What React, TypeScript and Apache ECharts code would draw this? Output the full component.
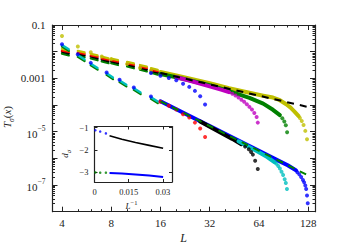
import React, { useEffect, useRef } from "react";
import * as echarts from "echarts";

const FONT = '"Liberation Serif", "DejaVu Serif", serif';
const INK = "#222";

// ---------- main axes ----------
const X_TICKS = [4, 8, 16, 32, 64, 128];
const X_MINOR = [5, 6, 7, 10, 12, 14, 20, 24, 28, 40, 48, 56, 80, 96, 112];
const Y_DECADES = [1e-8, 1e-7, 1e-6, 1e-5, 1e-4, 1e-3, 1e-2, 1e-1];
const Y_LABELS = [1e-7, 1e-5, 1e-3, 1e-1];
const Y_MINOR_FACTORS = [2, 3, 4, 5, 6, 7, 8, 9];

// ---------- upper family (values are log10 T) ----------
const UP_CLUSTER_L = [4, 5, 6, 7, 8, 10, 12, 14];
const UP_CLUSTER_END = [4.4, 5.5, 6.6, 7.7, 8.8, 11, 13.2, 15.4];
const UP_YELLOW_START = [-1.9, -1.97, -2.08, -2.19, -2.26, -2.38, -2.5, -2.62];
const UP_YELLOW_END = [-1.96, -2.03, -2.14, -2.25, -2.32, -2.44, -2.56, -2.68];
const UP_RED_START = [-1.96, -2.03, -2.14, -2.25, -2.32, -2.44, -2.56, -2.68];
const UP_RED_END = [-2.01, -2.08, -2.19, -2.3, -2.37, -2.49, -2.61, -2.73];
const UP_BLACK_START = [-2.0, -2.07, -2.18, -2.29, -2.36, -2.48, -2.6, -2.72];
const UP_BLACK_END = [-2.07, -2.14, -2.25, -2.36, -2.43, -2.55, -2.67, -2.79];
const UP_GREEN_START = [-2.07, -2.14, -2.25, -2.36, -2.43, -2.55, -2.67, -2.79];
const UP_GREEN_END = [-2.14, -2.21, -2.32, -2.43, -2.5, -2.62, -2.74, -2.86];

const YELLOW_DOT_L = [4, 5, 6, 7, 8, 10, 12, 14];
const YELLOW_DOT_V = [-1.41, -1.81, -2.02, -2.18, -2.28, -2.46, -2.61, -2.71];
const YELLOW_BAND_L = [16, 20, 24, 32, 42, 56, 68, 78, 86, 94, 100, 106, 112];
const YELLOW_BAND_V = [-2.76, -2.89, -3.0, -3.18, -3.37, -3.54, -3.65, -3.72, -3.82, -3.97, -4.1, -4.26, -4.42];
const YELLOW_TAIL_L = [114, 117, 120, 123, 126];
const YELLOW_TAIL_V = [-4.49, -4.6, -4.75, -4.97, -5.28];

const GREEN_BAND_L = [16, 20, 24, 32, 42, 56, 68, 78, 86];
const GREEN_BAND_V = [-2.84, -2.96, -3.07, -3.26, -3.48, -3.73, -3.95, -4.18, -4.38];
const GREEN_TAIL_L = [89, 91.5, 93.5, 95.2];
const GREEN_TAIL_V = [-4.5, -4.62, -4.76, -5.02];

const MAGENTA_BAND_L = [20, 24, 32, 38, 42];
const MAGENTA_BAND_V = [-2.96, -3.08, -3.3, -3.43, -3.52];
const MAGENTA_TAIL_L = [44, 46, 48, 50, 52, 54, 56, 58, 60, 62, 63];
const MAGENTA_TAIL_V = [-3.58, -3.64, -3.72, -3.8, -3.88, -3.97, -4.07, -4.17, -4.3, -4.45, -4.66];

const BLUE_UP_L = [14, 16, 18, 20, 22, 24, 26, 28, 30];
const BLUE_UP_V = [-2.8, -2.9, -2.99, -3.07, -3.2, -3.32, -3.47, -3.67, -3.98];

const FIT_UP_L = [16, 127];
const FIT_UP_V = [-2.8, -4.07];

// ---------- lower family (values are log10 T) ----------
const LOW_CLUSTER_L = [4, 5, 6, 7.5, 9, 11, 14];
const LOW_CLUSTER_END = [4.4, 5.5, 6.6, 8.2, 9.9, 12.1, 15.4];
const LOW_BLUE_DOT_V = [-1.72, -2.1, -2.42, -2.78, -3.05, -3.34, -3.68];
const LOW_CYAN_START = [-1.75, -2.13, -2.45, -2.81, -3.08, -3.37, -3.71];
const LOW_CYAN_END = [-1.91, -2.29, -2.61, -2.97, -3.24, -3.53, -3.87];
const LOW_GREEN_START = [-1.81, -2.19, -2.51, -2.87, -3.14, -3.43, -3.77];
const LOW_GREEN_END = [-1.97, -2.35, -2.67, -3.03, -3.3, -3.59, -3.93];

const BLUE_LOW_BAND_L = [16, 24, 32, 48, 64, 80, 96, 108];
const BLUE_LOW_BAND_V = [-3.86, -4.4, -4.79, -5.33, -5.72, -6.02, -6.26, -6.45];
const BLUE_LOW_TAIL_L = [110, 113, 116, 119, 121, 123, 124.5, 126, 127.3];
const BLUE_LOW_TAIL_V = [-6.52, -6.6, -6.7, -6.81, -6.9, -7.02, -7.15, -7.39, -7.68];

const CYAN_BAND_L = [48, 64, 72, 80];
const CYAN_BAND_V = [-5.36, -5.77, -5.95, -6.15];
const CYAN_TAIL_L = [82, 84, 86, 88, 90, 92, 93.5, 95];
const CYAN_TAIL_V = [-6.2, -6.29, -6.38, -6.5, -6.62, -6.78, -6.92, -7.15];

const BLACK_LOW_BAND_L = [28, 36, 44, 50];
const BLACK_LOW_BAND_V = [-4.62, -4.98, -5.27, -5.47];
const BLACK_LOW_TAIL_L = [52.7, 55.5, 57.3, 58.8, 60.7, 63];
const BLACK_LOW_TAIL_V = [-5.56, -5.66, -5.76, -5.86, -6.09, -6.4];

const RED_LOW_L = [16, 18, 20, 22, 24, 26, 28, 30];
const RED_LOW_V = [-3.88, -4.03, -4.17, -4.35, -4.47, -4.66, -4.88, -5.2];

const FIT_LOW_L = [16, 126];
const FIT_LOW_V = [-3.86, -6.62];

// ---------- inset ----------
const INSET_X_TICKS = [0, 0.015, 0.03];
const INSET_Y_TICKS = [-3, -2, -1];
const INV_L_LINE = [0.0066, 0.012, 0.018, 0.024, 0.0301];
const D_BLACK = [-1.37, -1.52, -1.67, -1.8, -1.93];
const D_BLUE = [-3.05, -3.07, -3.11, -3.16, -3.23];
const INV_L_DOTS = [0.0004, 0.0025, 0.005];
const D_BLUE_DOTS = [-1.12, -1.18, -1.26];
const D_GREEN_DOTS = [-3.02, -3.03, -3.03];

const C = {
  b: "#0000ff",
  g: "#008000",
  r: "#ff0000",
  c: "#00bfbf",
  m: "#bf00bf",
  y: "#bfbf00",
  k: "#000000",
};

const pts = (L: number[], v: number[]) => L.map((l, i) => [l, Math.pow(10, v[i])]);
const lin = (x: number[], y: number[]) => x.map((a, i) => [a, y[i]]);
const segs = (Ls: number[], Le: number[], vs: number[], ve: number[]) =>
  Ls.map((l, i) => ({ coords: [[l, Math.pow(10, vs[i])], [Le[i], Math.pow(10, ve[i])]] }));

const band = (L: number[], v: number[], color: string) => ({
  type: "line",
  data: pts(L, v),
  symbol: "none",
  silent: true,
  lineStyle: { color, width: 4, cap: "round", join: "round" },
  z: 2,
});
const dots = (L: number[], v: number[], color: string, size = 4) => ({
  type: "scatter",
  data: pts(L, v),
  symbolSize: size,
  silent: true,
  itemStyle: { color },
  z: 3,
});
const streak = (Ls: number[], Le: number[], vs: number[], ve: number[], color: string) => ({
  type: "lines",
  coordinateSystem: "cartesian2d",
  data: segs(Ls, Le, vs, ve),
  silent: true,
  lineStyle: { color, width: 2.3, opacity: 1, curveness: 0, cap: "round" },
  z: 3,
});
const fit = (L: number[], v: number[], color: string) => ({
  type: "line",
  data: pts(L, v),
  symbol: "none",
  silent: true,
  lineStyle: { color, width: 2, type: [7, 6] },
  z: 5,
});

const yMinor = Y_DECADES.slice(0, -1).flatMap((d) => Y_MINOR_FACTORS.map((f) => f * d));

const tickLine = { color: INK, width: 1 };

function mainX(position: string, ticks: number[], len: number, labels: boolean, line: boolean) {
  return {
    type: "log",
    logBase: 2,
    min: 3.5,
    max: 141,
    gridIndex: 0,
    position,
    axisLine: { show: line, onZero: false, lineStyle: { color: INK, width: 1.2 } },
    splitLine: { show: false },
    axisTick: { show: true, inside: true, length: len, customValues: ticks, lineStyle: tickLine },
    axisLabel: labels
      ? {
          show: true,
          customValues: X_TICKS,
          margin: 6,
          fontFamily: FONT,
          fontSize: 11,
          color: INK,
          formatter: (v: number) => String(Math.round(v)),
        }
      : { show: false },
  };
}

function mainY(position: string, ticks: number[], len: number, labels: boolean, line: boolean) {
  return {
    type: "log",
    logBase: 10,
    min: 1e-8,
    max: 0.1,
    gridIndex: 0,
    position,
    axisLine: { show: line, onZero: false, lineStyle: { color: INK, width: 1.2 } },
    splitLine: { show: false },
    axisTick: { show: true, inside: true, length: len, customValues: ticks, lineStyle: tickLine },
    axisLabel: labels
      ? {
          show: true,
          customValues: Y_LABELS,
          margin: 7,
          fontFamily: FONT,
          fontSize: 11,
          color: INK,
          formatter: (v: number) => {
            const e = Math.round(Math.log10(v));
            if (e === -1) return "0.1";
            if (e === -3) return "0.001";
            return `{b|10}{s|−${-e}}`;
          },
          rich: {
            b: { fontFamily: FONT, fontSize: 11, color: INK, lineHeight: 15, verticalAlign: "bottom" },
            s: { fontFamily: FONT, fontSize: 7.5, color: INK, lineHeight: 8, verticalAlign: "top" },
          },
        }
      : { show: false },
  };
}

function insetX(position: string, labels: boolean) {
  return {
    type: "value",
    min: 0,
    max: 0.034,
    gridIndex: 1,
    position,
    axisLine: { show: true, onZero: false, lineStyle: { color: INK, width: 1.2 } },
    splitLine: { show: false },
    axisTick: { show: true, inside: true, length: 3, customValues: INSET_X_TICKS, lineStyle: tickLine },
    axisLabel: labels
      ? {
          show: true,
          customValues: INSET_X_TICKS,
          margin: 5,
          fontFamily: FONT,
          fontSize: 8.5,
          color: INK,
          formatter: (v: number) => String(Math.round(v * 1000) / 1000),
        }
      : { show: false },
  };
}

function insetY(position: string, labels: boolean) {
  return {
    type: "value",
    min: -3.45,
    max: -0.95,
    gridIndex: 1,
    position,
    axisLine: { show: true, onZero: false, lineStyle: { color: INK, width: 1.2 } },
    splitLine: { show: false },
    axisTick: { show: true, inside: true, length: 3, customValues: INSET_Y_TICKS, lineStyle: tickLine },
    axisLabel: labels
      ? {
          show: true,
          customValues: INSET_Y_TICKS,
          margin: 6,
          fontFamily: FONT,
          fontSize: 8.5,
          color: INK,
          formatter: (v: number) => (v < 0 ? "−" : "") + Math.abs(Math.round(v)),
        }
      : { show: false },
  };
}

export default function App() {
  const ref = useRef<HTMLDivElement>(null);

  useEffect(() => {
    if (!ref.current) return;
    const chart = echarts.init(ref.current, undefined, { renderer: "svg" });

    const M = { xAxisIndex: 0, yAxisIndex: 0 };
    const I = { xAxisIndex: 4, yAxisIndex: 4 };

    const series: any[] = [
      // dense bands
      { ...band(YELLOW_BAND_L, YELLOW_BAND_V, C.y), ...M },
      { ...band(GREEN_BAND_L, GREEN_BAND_V, C.g), ...M },
      { ...band(MAGENTA_BAND_L, MAGENTA_BAND_V, C.m), ...M },
      { ...band(BLUE_LOW_BAND_L, BLUE_LOW_BAND_V, C.b), ...M },
      { ...band(BLACK_LOW_BAND_L, BLACK_LOW_BAND_V, C.k), ...M },
      { ...band(CYAN_BAND_L, CYAN_BAND_V, C.c), ...M },
      // small-L streaks
      { ...streak(UP_CLUSTER_L, UP_CLUSTER_END, UP_GREEN_START, UP_GREEN_END, C.g), ...M },
      { ...streak(UP_CLUSTER_L, UP_CLUSTER_END, UP_BLACK_START, UP_BLACK_END, C.k), ...M },
      { ...streak(UP_CLUSTER_L, UP_CLUSTER_END, UP_RED_START, UP_RED_END, C.r), ...M },
      { ...streak(UP_CLUSTER_L, UP_CLUSTER_END, UP_YELLOW_START, UP_YELLOW_END, C.y), ...M },
      { ...streak(LOW_CLUSTER_L, LOW_CLUSTER_END, LOW_GREEN_START, LOW_GREEN_END, C.g), ...M },
      { ...streak(LOW_CLUSTER_L, LOW_CLUSTER_END, LOW_CYAN_START, LOW_CYAN_END, C.c), ...M },
      // dots
      { ...dots(YELLOW_DOT_L, YELLOW_DOT_V, C.y), ...M },
      { ...dots(YELLOW_TAIL_L, YELLOW_TAIL_V, C.y), ...M },
      { ...dots(GREEN_TAIL_L, GREEN_TAIL_V, C.g), ...M },
      { ...dots(MAGENTA_TAIL_L, MAGENTA_TAIL_V, C.m), ...M },
      { ...dots(BLUE_UP_L, BLUE_UP_V, C.b), ...M },
      { ...dots(LOW_CLUSTER_L, LOW_BLUE_DOT_V, C.b), ...M },
      { ...dots(RED_LOW_L, RED_LOW_V, C.r), ...M },
      { ...dots(BLACK_LOW_TAIL_L, BLACK_LOW_TAIL_V, C.k), ...M },
      { ...dots(CYAN_TAIL_L, CYAN_TAIL_V, C.c), ...M },
      { ...dots(BLUE_LOW_TAIL_L, BLUE_LOW_TAIL_V, C.b), ...M },
      // fits
      { ...fit(FIT_UP_L, FIT_UP_V, C.k), ...M },
      { ...fit(FIT_LOW_L, FIT_LOW_V, C.g), ...M },
      // inset
      {
        type: "line",
        data: lin(INV_L_LINE, D_BLACK),
        symbol: "none",
        silent: true,
        lineStyle: { color: C.k, width: 1.6 },
        ...I,
      },
      {
        type: "line",
        data: lin(INV_L_LINE, D_BLUE),
        symbol: "none",
        silent: true,
        lineStyle: { color: C.b, width: 2 },
        ...I,
      },
      {
        type: "scatter",
        data: lin(INV_L_DOTS, D_BLUE_DOTS),
        symbolSize: 2.5,
        silent: true,
        itemStyle: { color: C.b },
        ...I,
      },
      {
        type: "scatter",
        data: lin(INV_L_DOTS, D_GREEN_DOTS),
        symbolSize: 2.5,
        silent: true,
        itemStyle: { color: C.g },
        ...I,
      },
    ];

    chart.setOption({
      animation: false,
      backgroundColor: "#fff",
      grid: [
        { left: 52.5, top: 25, width: 262.5, height: 186.7, containLabel: false },
        {
          left: 94.5,
          top: 126.5,
          width: 77.5,
          height: 55.5,
          show: true,
          backgroundColor: "#fff",
          borderWidth: 0,
          z: 10,
        },
      ],
      xAxis: [
        mainX("bottom", X_TICKS, 5, true, true),
        mainX("bottom", X_MINOR, 2.5, false, false),
        mainX("top", X_TICKS, 5, false, true),
        mainX("top", X_MINOR, 2.5, false, false),
        { ...insetX("bottom", true), z: 12 },
        { ...insetX("top", false), z: 12 },
      ],
      yAxis: [
        mainY("left", Y_DECADES, 5, true, true),
        mainY("left", yMinor, 2.5, false, false),
        mainY("right", Y_DECADES, 5, false, true),
        mainY("right", yMinor, 2.5, false, false),
        { ...insetY("left", true), z: 12 },
        { ...insetY("right", false), z: 12 },
      ],
      series: series.map((s, i) => (i >= series.length - 4 ? { ...s, z: 13 } : s)),
      graphic: [
        {
          type: "text",
          x: 8,
          y: 117,
          rotation: Math.PI / 2,
          style: {
            text: "{i|T}{sub|σ}{n|(}{i|x}{n|)}",
            align: "center",
            verticalAlign: "middle",
            fill: INK,
            rich: {
              i: { fontFamily: FONT, fontStyle: "italic", fontSize: 11, fill: INK, lineHeight: 14, verticalAlign: "top" },
              n: { fontFamily: FONT, fontSize: 11, fill: INK, lineHeight: 14, verticalAlign: "top" },
              sub: { fontFamily: FONT, fontStyle: "italic", fontSize: 7.5, fill: INK, lineHeight: 8, verticalAlign: "bottom" },
            },
          },
        },
        {
          type: "text",
          x: 183.5,
          y: 237.5,
          style: {
            text: "L",
            font: `italic 12px ${FONT}`,
            align: "center",
            verticalAlign: "middle",
            fill: INK,
          },
        },
        {
          type: "text",
          x: 66,
          y: 154,
          rotation: Math.PI / 2,
          z: 20,
          style: {
            text: "{i|d}{sub|σ}",
            align: "center",
            verticalAlign: "middle",
            fill: INK,
            rich: {
              i: { fontFamily: FONT, fontStyle: "italic", fontSize: 9, fill: INK, lineHeight: 11, verticalAlign: "top" },
              sub: { fontFamily: FONT, fontStyle: "italic", fontSize: 6.5, fill: INK, lineHeight: 7, verticalAlign: "bottom" },
            },
          },
        },
        {
          type: "text",
          x: 131.5,
          y: 204.5,
          z: 20,
          style: {
            text: "{i|L}{sup|−1}",
            align: "center",
            verticalAlign: "middle",
            fill: INK,
            rich: {
              i: { fontFamily: FONT, fontStyle: "italic", fontSize: 9, fill: INK, lineHeight: 11, verticalAlign: "bottom" },
              sup: { fontFamily: FONT, fontSize: 6.5, fill: INK, lineHeight: 7, verticalAlign: "top" },
            },
          },
        },
      ],
    });

    return () => chart.dispose();
  }, []);

  return (
    <div
      ref={ref}
      style={{ position: "absolute", left: 0, top: 0, width: 350, height: 250, background: "#fff" }}
    />
  );
}
